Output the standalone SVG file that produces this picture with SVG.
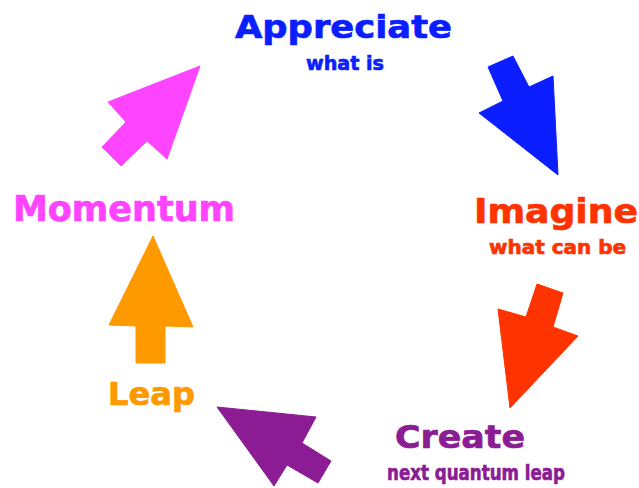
<svg xmlns="http://www.w3.org/2000/svg" width="639" height="488" viewBox="0 0 639 488">
<style>
text{font-family:"DejaVu Sans",Verdana,sans-serif;font-weight:bold;stroke-width:0.7px}
.t{font-size:32px}
.s{font-size:20px}
.blue{fill:#0a1eff;stroke:#0a1eff}
.red{fill:#ff3300;stroke:#ff3300}
.purple{fill:#8b1c94;stroke:#8b1c94}
.orange{fill:#ff9900;stroke:#ff9900}
.pink{fill:#ff44ff;stroke:#ff44ff}
polygon{stroke:none}
</style>
<rect width="639" height="488" fill="#ffffff"/>
<g id="connectors">
<polygon class="blue" points="488,67 513,56 529,87 553,76 558,175 479,113 503,101"/>
<polygon class="red" points="537,284 563,293 553,327 578,336 510,408 498,309 526,317"/>
<polygon class="purple" points="217,407 316,417 302,443 331,461 318,483 287,465 274,486"/>
<polygon class="orange" points="153,236 193,327 165,326 165,363 136,363 136,326 109,325"/>
<polygon class="pink" points="200,66 167,159 147,141 121,166 102,147 126,122 108,102"/>
</g>
<g id="appreciate">
<text class="t blue" x="235" y="38" textLength="217" lengthAdjust="spacingAndGlyphs">Appreciate</text>
<text class="s blue" x="306" y="70" textLength="78" lengthAdjust="spacingAndGlyphs">what is</text>
</g>
<g id="imagine">
<text class="red" style="font-size:34px" x="474" y="223" textLength="164" lengthAdjust="spacingAndGlyphs">Imagine</text>
<text class="s red" x="489" y="254" textLength="137" lengthAdjust="spacingAndGlyphs">what can be</text>
</g>
<g id="create">
<text class="t purple" x="395" y="448" textLength="130" lengthAdjust="spacingAndGlyphs">Create</text>
<text class="s purple" style="font-size:21px" x="387" y="480" textLength="178" lengthAdjust="spacingAndGlyphs">next quantum leap</text>
</g>
<g id="leap">
<text class="t orange" x="108" y="405" textLength="87" lengthAdjust="spacingAndGlyphs">Leap</text>
</g>
<g id="momentum">
<text class="pink" style="font-size:35px" x="13" y="221" textLength="222" lengthAdjust="spacingAndGlyphs">Momentum</text>
</g>
</svg>
